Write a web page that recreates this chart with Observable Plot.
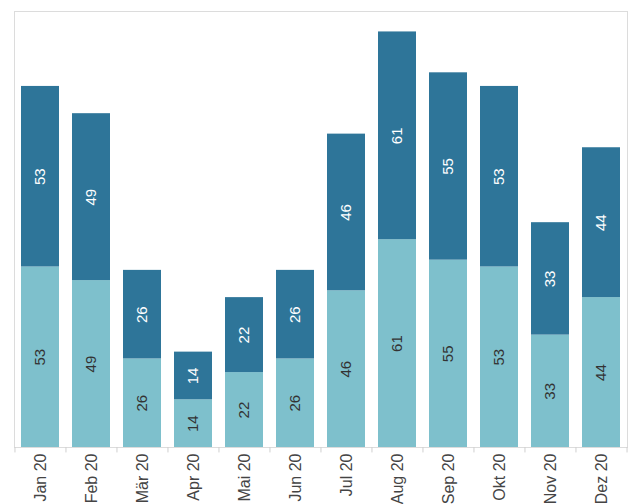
<!DOCTYPE html>
<html>
<head>
<meta charset="utf-8">
<script src="https://cdn.jsdelivr.net/npm/d3@7"></script>
<script src="https://cdn.jsdelivr.net/npm/@observablehq/plot@0.6"></script>
<style>
  html, body { margin: 0; padding: 0; background: #fff; }
  #chart { width: 634px; height: 504px; overflow: hidden; }
</style>
</head>
<body>
<div id="chart"></div>
<script>
const months = ["Jan 20","Feb 20","Mär 20","Apr 20","Mai 20","Jun 20","Jul 20","Aug 20","Sep 20","Okt 20","Nov 20","Dez 20"];
const lowerValues = [53,49,26,14,22,26,46,61,55,53,33,44];
const upperValues = [53,49,26,14,22,26,46,61,55,53,33,44];
const seriesNames = ["unten","oben"];
const seriesColors = ["#7EC0CC","#2E7599"];

const data = [];
months.forEach((m, i) => {
  data.push({month: m, series: "unten", value: lowerValues[i]});
  data.push({month: m, series: "oben", value: upperValues[i]});
});

const width = 634, height = 504;
const marginLeft = 14, marginRight = 7, marginTop = 11, marginBottom = 57;
const step = (width - marginLeft - marginRight) / (months.length);
const boundaries = months.map(m => ({month: m, dx: -step / 2})).concat([{month: months[months.length - 1], dx: step / 2}]);

const chart = Plot.plot({
  width, height, marginLeft, marginRight, marginTop, marginBottom,
  style: {fontFamily: "'Liberation Sans', Arial, sans-serif", background: "#fff"},
  x: {domain: months, paddingInner: 0.25, paddingOuter: 0.125, label: null},
  y: {domain: [0, 128], axis: null},
  color: {domain: seriesNames, range: seriesColors},
  opacity: {type: "identity"},
  marks: [
    Plot.frame({stroke: "#dcdcdc"}),
    Plot.barY(data, {x: "month", y: "value", fill: "series"}),
    Plot.text(data, Plot.stackY({
      x: "month", y: "value", text: "value", rotate: -90,
      fillOpacity: d => d.series === "unten" ? 1 : 0, fill: "#333", fontSize: 15
    })),
    Plot.text(data, Plot.stackY({
      x: "month", y: "value", text: "value", rotate: -90,
      fillOpacity: d => d.series === "oben" ? 1 : 0, fill: "#ffffff", fontSize: 15
    })),
    ...boundaries.map(b => Plot.ruleX([b], {x: "month", y1: 0, y2: -1.6, dx: b.dx, stroke: "#cfcfcf"})),
    Plot.axisX({tickSize: 0, tickPadding: 6, tickRotate: -90, fontSize: 16, fill: "#444", label: null})
  ]
});
document.getElementById("chart").appendChild(chart);
</script>
</body>
</html>
